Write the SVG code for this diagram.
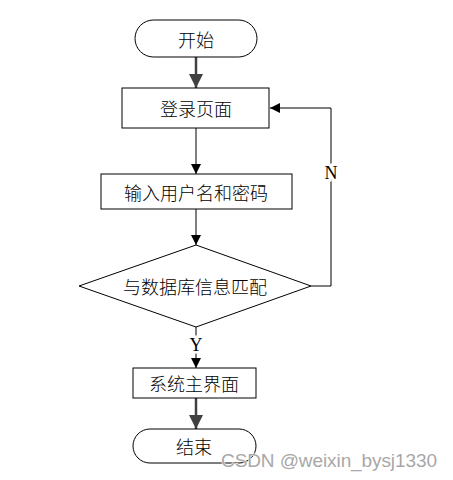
<svg xmlns="http://www.w3.org/2000/svg" width="453" height="480" viewBox="0 0 453 480">
<style>
.shape{fill:#fff;stroke:#000;stroke-width:1}
.t{font-family:"Noto Sans CJK SC","Noto Sans",sans-serif;font-size:18px;font-weight:300;fill:#000;text-anchor:middle;dominant-baseline:central}
.l{font-family:"Liberation Serif",serif;font-size:18px;fill:#000;text-anchor:middle;dominant-baseline:central;paint-order:stroke;stroke:#fff;stroke-width:5}
.thin{stroke:#000;stroke-width:1;fill:none}
.thick{stroke:#404040;stroke-width:2.5;fill:none}
</style>
<defs>
<marker id="a" markerWidth="10" markerHeight="10" refX="10" refY="5" orient="auto" markerUnits="userSpaceOnUse"><path d="M0,0 L10,5 L0,10 Z" fill="#000"/></marker>
<marker id="b" markerWidth="14" markerHeight="14" refX="14" refY="7" orient="auto" markerUnits="userSpaceOnUse"><path d="M0,0 L14,7 L0,14 Z" fill="#404040"/></marker>
</defs>
<rect width="453" height="480" fill="#fff"/>
<g id="connectors">
<line class="thick" x1="196" y1="57" x2="196" y2="88" marker-end="url(#b)"/>
<line class="thin" x1="196" y1="128" x2="196" y2="174" marker-end="url(#a)"/>
<line class="thin" x1="196" y1="209" x2="196" y2="245" marker-end="url(#a)"/>
<polyline class="thin" points="311,286 331,286 331,108 270,108" marker-end="url(#a)"/>
<line class="thin" x1="196" y1="327" x2="196" y2="368" marker-end="url(#a)"/>
<line class="thick" x1="196" y1="398" x2="196" y2="429" marker-end="url(#b)"/>
</g>
<g id="start"><rect class="shape" x="135" y="20" width="122" height="37" rx="18.5"/><text class="t" x="196" y="38.5">开始</text></g>
<g id="login"><rect class="shape" x="122" y="88" width="147" height="40"/><text class="t" x="196" y="108">登录页面</text></g>
<g id="input"><rect class="shape" x="101" y="174" width="191" height="35"/><text class="t" x="196" y="191.5">输入用户名和密码</text></g>
<g id="match"><polygon class="shape" points="196,245 311,286 196,327 79,286"/><text class="t" x="195" y="286">与数据库信息匹配</text></g>
<g id="main"><rect class="shape" x="133" y="368" width="123" height="30"/><text class="t" x="194" y="383">系统主界面</text></g>
<g id="end"><rect class="shape" x="133" y="429" width="123" height="34" rx="17"/><text class="t" x="194" y="446">结束</text></g>
<text class="l" x="331" y="173">N</text>
<text class="l" x="196" y="345">Y</text>
<text x="437" y="467" font-family="Liberation Sans,Arial,sans-serif" font-size="19" fill="#a8a8a8" text-anchor="end" textLength="216" style="paint-order:stroke;stroke:#fff;stroke-width:1">CSDN @weixin_bysj1330</text>
</svg>
